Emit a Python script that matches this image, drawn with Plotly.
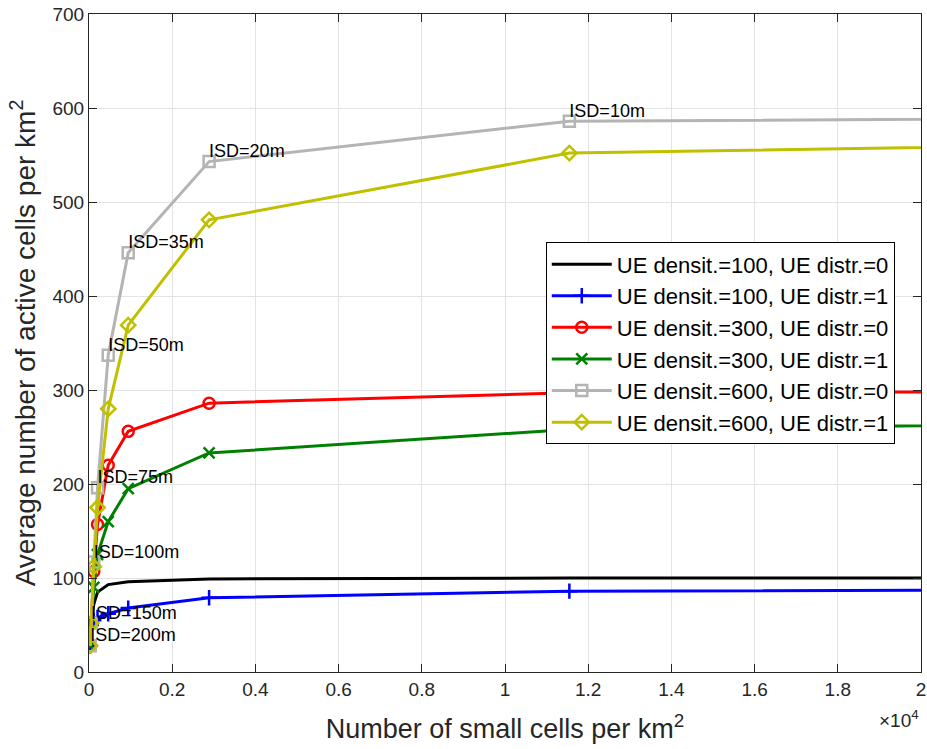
import plotly.graph_objects as go

# Small-cell densities (cells per km^2) for hexagonal layouts with the given ISD
isd_m = [200, 150, 100, 75, 50, 35, 20, 10, 5]
cell_density = [29, 51, 115, 205, 462, 943, 2887, 11547, 46188]

# Average number of active cells per km^2
active_100_d0 = [28, 50, 72, 85, 93, 96, 99, 100, 100]
active_100_d1 = [28, 50, 55, 58, 62, 68, 79, 86, 90]
active_300_d0 = [28, 52, 107, 157, 220, 256, 286, 297, 301]
active_300_d1 = [28, 52, 90, 125, 160, 195, 233, 258, 274]
active_600_d0 = [28, 52, 117, 196, 337, 446, 543, 586, 594]
active_600_d1 = [28, 52, 112, 175, 280, 369, 481, 552, 577]

series_names = [
    "UE densit.=100, UE distr.=0",
    "UE densit.=100, UE distr.=1",
    "UE densit.=300, UE distr.=0",
    "UE densit.=300, UE distr.=1",
    "UE densit.=600, UE distr.=0",
    "UE densit.=600, UE distr.=1",
]
series_values = [active_100_d0, active_100_d1, active_300_d0,
                 active_300_d1, active_600_d0, active_600_d1]
series_colors = ["#000000", "#0000ff", "#ff0000", "#008000", "#b4b4b4", "#c0c000"]
series_symbols = [None, "cross-thin-open", "circle-open", "x-thin-open",
                  "square-open", "diamond-open"]

x_tick_vals = [0, 2000, 4000, 6000, 8000, 10000, 12000, 14000, 16000, 18000, 20000]
x_tick_text = ["0", "0.2", "0.4", "0.6", "0.8", "1", "1.2", "1.4", "1.6", "1.8", "2"]
y_tick_vals = [0, 100, 200, 300, 400, 500, 600, 700]

FONT = "Liberation Sans, Arial, Helvetica, sans-serif"
AXIS_COLOR = "#262626"

fig = go.Figure()

for name, vals, color, sym in zip(series_names, series_values, series_colors, series_symbols):
    if sym is None:
        fig.add_trace(go.Scatter(
            x=cell_density, y=vals, name=name, mode="lines",
            line=dict(color=color, width=3),
        ))
    else:
        fig.add_trace(go.Scatter(
            x=cell_density, y=vals, name=name, mode="lines+markers",
            line=dict(color=color, width=3),
            marker=dict(symbol=sym, size=11, color=color,
                        line=dict(color=color, width=2.5)),
        ))

# ISD labels attached to the UE density 600 / distr 0 curve
isd_labels = [f"ISD={d}m" for d in isd_m]
fig.add_trace(go.Scatter(
    x=cell_density[:-1], y=active_600_d0[:-1], text=isd_labels[:-1],
    mode="text", textposition="top right",
    textfont=dict(family=FONT, size=18, color="#000000"),
    showlegend=False, hoverinfo="skip", cliponaxis=False,
))

fig.add_annotation(
    x=1.0, y=-0.05, xref="paper", yref="paper", xanchor="right", yanchor="top",
    text="×10<sup>4</sup>", showarrow=False,
    font=dict(family=FONT, size=19, color=AXIS_COLOR),
)

axis_common = dict(
    showline=True, linecolor=AXIS_COLOR, linewidth=1.2, mirror="ticks",
    ticks="inside", ticklen=8, tickwidth=1.2, tickcolor=AXIS_COLOR,
    showgrid=True, gridcolor="#e3e3e3", gridwidth=1, zeroline=False,
    tickfont=dict(family=FONT, size=19, color=AXIS_COLOR),
    automargin=False,
)

fig.update_layout(
    width=927, height=749,
    margin=dict(l=89, r=6, t=14, b=77),
    plot_bgcolor="white", paper_bgcolor="white",
    font=dict(family=FONT, color=AXIS_COLOR),
    xaxis=dict(
        range=[0, 20000], tickvals=x_tick_vals, ticktext=x_tick_text,
        title=dict(text="Number of small cells per km<sup>2</sup>",
                   font=dict(family=FONT, size=27, color=AXIS_COLOR), standoff=20),
        **axis_common,
    ),
    yaxis=dict(
        range=[0, 700], tickvals=y_tick_vals,
        title=dict(text="Average number of active cells per km<sup>2</sup>",
                   font=dict(family=FONT, size=28, color=AXIS_COLOR), standoff=8),
        **axis_common,
    ),
    legend=dict(
        x=0.549, y=0.653, xanchor="left", yanchor="top",
        bgcolor="white", bordercolor="#000000", borderwidth=1,
        font=dict(family=FONT, size=22, color="#000000"),
        itemwidth=60, tracegroupgap=0,
    ),
    showlegend=True,
)

fig.write_html("out.html")
